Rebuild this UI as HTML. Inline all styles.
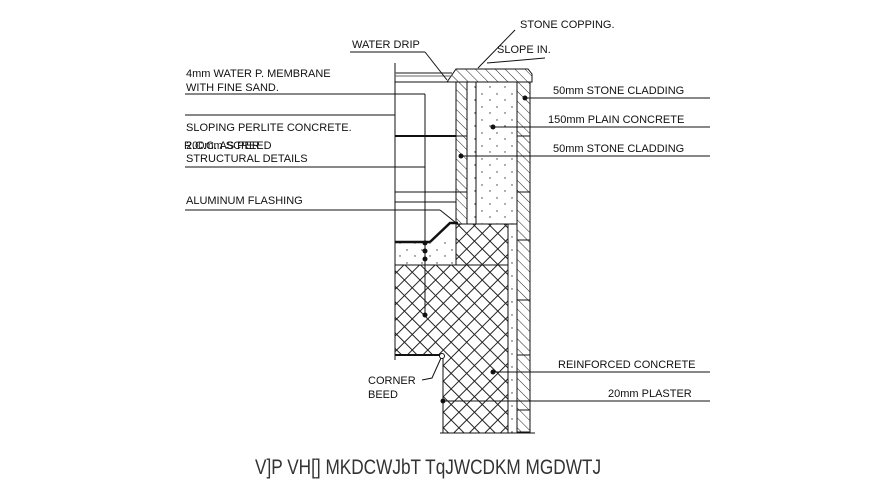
<!DOCTYPE html>
<html><head><style>
html,body{margin:0;padding:0;background:#fff}
svg{display:block}
text{font-family:"Liberation Sans",sans-serif;font-size:11px;fill:#111}
</style></head><body>
<svg width="895" height="493" viewBox="0 0 895 493" xmlns="http://www.w3.org/2000/svg">
<defs>
<pattern id="diag" width="7" height="7" patternUnits="userSpaceOnUse" patternTransform="rotate(-45)">
<line x1="0" y1="0" x2="0" y2="7" stroke="#222" stroke-width="1"/></pattern>
<pattern id="cross" width="11" height="11" patternUnits="userSpaceOnUse" patternTransform="rotate(45)">
<rect width="11" height="11" fill="none" stroke="#222" stroke-width="1"/></pattern>
<pattern id="dots" width="15" height="13" patternUnits="userSpaceOnUse">
<circle cx="2" cy="3" r="0.7" fill="#333"/><circle cx="10" cy="9" r="0.7" fill="#333"/></pattern>
</defs>
<g stroke="#111" stroke-width="1" fill="none">
<rect x="467" y="82" width="50" height="142" fill="url(#dots)"/>
<rect x="508" y="224" width="9" height="209" fill="url(#dots)"/>
<rect x="395" y="240" width="60" height="25" fill="url(#dots)" stroke="none"/>
<rect x="456" y="82" width="11" height="142" fill="url(#diag)"/>
<rect x="517" y="82" width="13" height="350" fill="url(#diag)"/>
<line x1="517" y1="136" x2="530" y2="136"/><line x1="517" y1="192" x2="530" y2="192"/>
<line x1="517" y1="240" x2="530" y2="240"/><line x1="517" y1="300" x2="530" y2="300"/>
<line x1="517" y1="355" x2="530" y2="355"/><line x1="517" y1="410" x2="530" y2="410"/>
<line x1="456" y1="136" x2="467" y2="136"/><line x1="456" y1="192" x2="467" y2="192"/>
<path d="M456 224 H508 V433 H443 V355 H395 V265 H456 Z" fill="url(#cross)"/>
<line x1="395" y1="265" x2="508" y2="265"/>
<path d="M447 82 L456 69 H528 L532 74 V82 Z" fill="url(#diag)"/>
<line x1="447" y1="82" x2="532" y2="82"/>
<line x1="395" y1="63" x2="395" y2="360"/>
<line x1="395" y1="73" x2="452" y2="73" stroke="#666" stroke-width="1.5"/>
<line x1="395" y1="76" x2="452" y2="76" stroke="#666" stroke-width="1"/>
<line x1="395" y1="82" x2="447" y2="82"/>
<line x1="395" y1="136" x2="456" y2="136" stroke-width="2"/>
<line x1="395" y1="192" x2="456" y2="192"/>
<line x1="395" y1="202" x2="456" y2="202"/>
<line x1="395" y1="242" x2="430" y2="242" stroke-width="2.5"/>
<path d="M430 242 L450 223 H458" stroke-width="2.5"/>
<line x1="395" y1="355" x2="443" y2="355" stroke-width="2"/>
<line x1="443" y1="355" x2="443" y2="433"/>
<line x1="440" y1="433" x2="535" y2="433"/>
<circle cx="442" cy="356" r="2.5" fill="#fff"/>
<line x1="425" y1="94" x2="425" y2="315"/>
<line x1="476" y1="82" x2="476" y2="224"/>
<line x1="185" y1="94" x2="425" y2="94"/>
<line x1="185" y1="115" x2="395" y2="115"/>
<line x1="185" y1="167" x2="425" y2="167"/>
<line x1="185" y1="210" x2="440" y2="210"/><line x1="440" y1="210" x2="455" y2="222"/>
<line x1="350" y1="52" x2="425" y2="52"/><line x1="425" y1="52" x2="447" y2="80"/>
<line x1="515" y1="30" x2="478" y2="68"/>
<line x1="487" y1="63" x2="545" y2="58"/>
<path d="M422 380 L432 378 L441 358"/>
<line x1="525" y1="98" x2="710" y2="98"/>
<line x1="493" y1="127" x2="710" y2="127"/>
<line x1="461" y1="156" x2="710" y2="156"/>
<line x1="493" y1="372" x2="710" y2="372"/>
<line x1="443" y1="401" x2="710" y2="401"/>
</g>
<g fill="#111">
<circle cx="525" cy="98" r="2.5"/><circle cx="493" cy="127" r="2.5"/><circle cx="461" cy="156" r="2.5"/>
<circle cx="493" cy="372" r="2.5"/><circle cx="443" cy="401" r="2.5"/>
<circle cx="425" cy="243" r="2.5"/><circle cx="425" cy="251" r="2.5"/><circle cx="425" cy="259" r="2.5"/>
<circle cx="425" cy="315" r="2.5"/>
</g>
<text x="520" y="28">STONE COPPING.</text>
<text x="497" y="53">SLOPE IN.</text>
<text x="352" y="48">WATER DRIP</text>
<text x="186" y="77">4mm WATER P. MEMBRANE</text>
<text x="186" y="91">WITH FINE SAND.</text>
<text x="186" y="131">SLOPING PERLITE CONCRETE.</text>
<text x="184" y="149">R.C.C. AS PER</text><text x="186" y="149">200mm SCREED</text>
<text x="186" y="162">STRUCTURAL DETAILS</text>
<text x="186" y="204">ALUMINUM FLASHING</text>
<text x="553" y="94">50mm STONE CLADDING</text>
<text x="548" y="123">150mm PLAIN CONCRETE</text>
<text x="553" y="152">50mm STONE CLADDING</text>
<text x="558" y="368">REINFORCED CONCRETE</text>
<text x="608" y="397">20mm PLASTER</text>
<text x="368" y="384">CORNER</text>
<text x="368" y="398">BEED</text>
<text transform="translate(255,474) scale(0.82,1)" x="0" y="0" style="font-size:21px;fill:#333">V]P VH[] MKDCWJbT TqJWCDKM MGDWTJ</text>
</svg>
</body></html>
